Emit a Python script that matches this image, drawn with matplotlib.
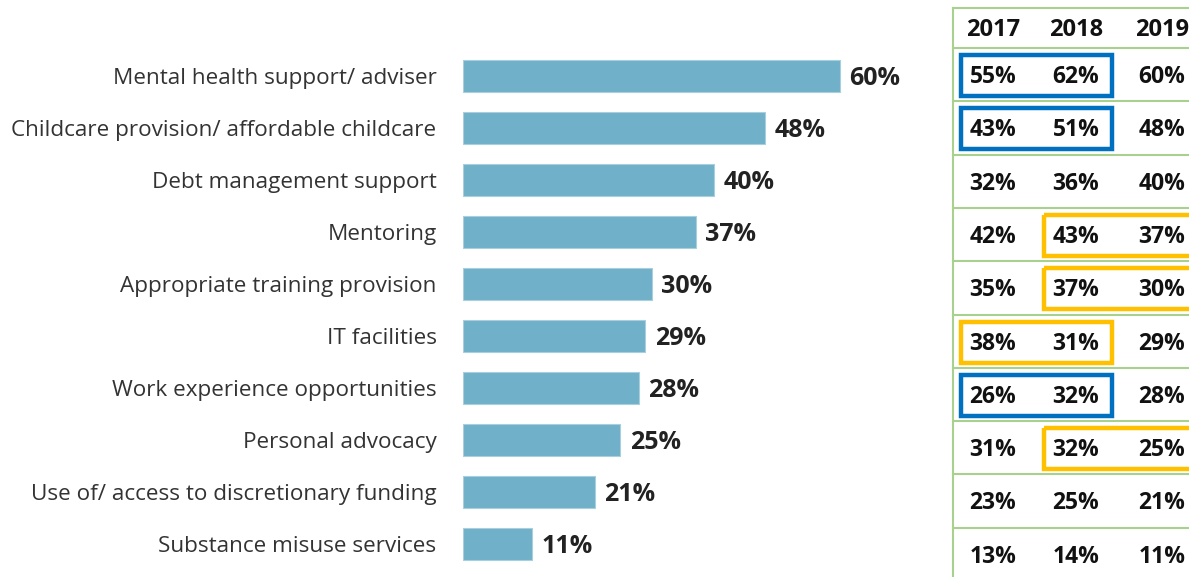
import matplotlib.pyplot as plt
from matplotlib.patches import Rectangle

plt.rcParams['font.family'] = ['Open Sans', 'DejaVu Sans']

categories = ["Mental health support/ adviser",
              "Childcare provision/ affordable childcare",
              "Debt management support",
              "Mentoring",
              "Appropriate training provision",
              "IT facilities",
              "Work experience opportunities",
              "Personal advocacy",
              "Use of/ access to discretionary funding",
              "Substance misuse services"]
years = ["2017", "2018", "2019"]
pct_2017 = [55, 43, 32, 42, 35, 38, 26, 31, 23, 13]
pct_2018 = [62, 51, 36, 43, 37, 31, 32, 32, 25, 14]
pct_2019 = [60, 48, 40, 37, 30, 29, 28, 25, 21, 11]

# highlighted pairs of cells: (row, first column)
rises = [(0, 0), (1, 0), (6, 0)]
falls = [(3, 1), (4, 1), (5, 0), (7, 1)]
blue = "#0070C0"
amber = "#FFC000"
bar_color = "#70B0C8"

W, H = 1189, 577
fig = plt.figure(figsize=(W / 100, H / 100), dpi=100)

# bar chart, laid out in pixel terms
top, row_h = 50, 52
ax = fig.add_axes([463 / W, 1 - (top + row_h * 10) / H, 440 / W, row_h * 10 / H])
ypos = list(range(len(categories)))
ax.barh(ypos, pct_2019, height=0.63, color=bar_color, edgecolor="#A8CFDD", linewidth=0.8)
ax.set_xlim(0, 70)
ax.set_ylim(len(categories) - 0.5, -0.5)
for y, v in zip(ypos, pct_2019):
    ax.text(v + 1.5, y + 0.04, f"{v}%", va="center", ha="left", fontsize=18, fontweight="bold", color="#222222")
ax.set_yticks(ypos)
ax.set_yticklabels(categories, fontsize=16.2, color="#333333")
ax.tick_params(axis="y", length=0, pad=19)
ax.set_xticks([])
for s in ax.spines.values():
    s.set_visible(False)

# comparison table on the right
tx = fig.add_axes([0, 0, 1, 1])
tx.set_xlim(0, W)
tx.set_ylim(H, 0)
tx.axis("off")
green = "#A9D18E"
tx.plot([953, 953], [8, H], color=green, lw=1.5)
tx.plot([953, W], [8, 8], color=green, lw=1.5)
lines_y = [48 + 53.3 * k for k in range(10)]
for ly in lines_y:
    tx.plot([953, W], [ly, ly], color=green, lw=1.5)
col_x = [993, 1076, 1162]
for cx, yr in zip(col_x, years):
    tx.text(cx, 30, yr, ha="center", va="center", fontsize=17, fontweight="bold", color="#111111")
row_c = [ly + 27 for ly in lines_y]
for i in range(len(categories)):
    for cx, vals in zip(col_x, [pct_2017, pct_2018, pct_2019]):
        tx.text(cx, row_c[i] + 2, f"{vals[i]}%", ha="center", va="center", fontsize=16.5, fontweight="bold", color="#111111")

def box(row, col, color):
    x0 = col_x[col] - 32
    x1 = col_x[col + 1] + 36
    y0 = row_c[row] - 20
    tx.add_patch(Rectangle((x0, y0), x1 - x0, 41, fill=False, edgecolor=color, lw=3.2))

for r, c in rises:
    box(r, c, blue)
for r, c in falls:
    box(r, c, amber)

fig.savefig("out.png", dpi=100)
